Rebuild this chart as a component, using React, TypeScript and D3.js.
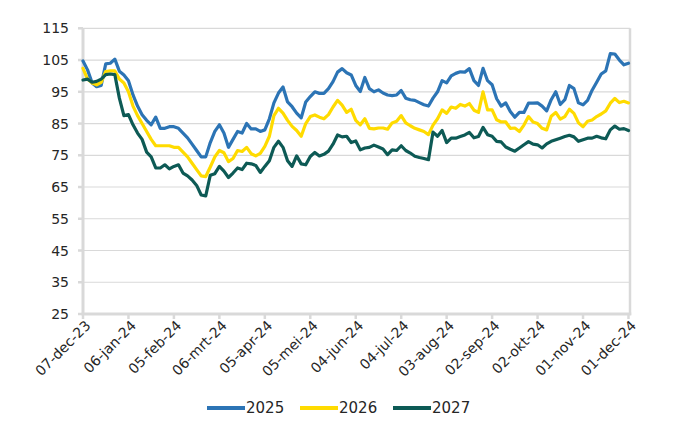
import React from "react";
import * as d3 from "d3";

// ---- data ----
const startDate = new Date(2023, 11, 7);
const endDate = new Date(2024, 11, 2);
const stepDays = 3; // one reading every 3 days
const tickStepDays = 30;

const tickLabels = [
  "07-dec-23", "06-jan-24", "05-feb-24", "06-mrt-24", "05-apr-24", "05-mei-24",
  "04-jun-24", "04-jul-24", "03-aug-24", "02-sep-24", "02-okt-24", "01-nov-24", "01-dec-24",
];
const yTicks = [25, 35, 45, 55, 65, 75, 85, 95, 105, 115];

const seriesNames = ["2025", "2026", "2027"];

const values2025 = [
  104.7, 101.9, 97.8, 96.6, 97, 103.8, 104, 105.3, 101.5, 100.3,
  98.5, 94, 90.5, 87.8, 86, 84.6, 87, 83.5, 83.5, 84,
  84, 83.5, 82, 80.5, 78.5, 76.5, 74.5, 74.5, 79, 82.5,
  84.6, 82, 77.5, 80, 82.5, 82, 85, 83.3, 83.3, 82.5,
  83, 86.5, 91.5, 94.6, 96.5, 91.8, 90.3, 88.3, 86.8, 91.8,
  93.5, 95, 94.5, 94.5, 96, 98.2, 101.2, 102.3, 101, 100.3,
  97, 95.1, 99.5, 96, 95, 95.6, 94.6, 94, 93.8, 94,
  95.4, 93, 92.5, 92.3, 91.6, 90.9, 90.5, 93, 95, 98.5,
  97.8, 100, 100.8, 101.3, 101.2, 102.3, 98.5, 97, 102.4, 98.5,
  97.2, 92.8, 90.5, 91.5, 88.8, 87, 88.5, 88.5, 91.4, 91.4,
  91.5, 90.5, 89, 92.5, 95, 91, 92.5, 97, 96, 91.5,
  90.9, 92.3, 95.5, 98, 100.6, 101.6, 107, 106.9, 105, 103.5,
  104,
];

const values2026 = [
  102.4, 99, 97.8, 97.2, 98, 101.4, 101.6, 101.6, 99, 97.8,
  95, 90.5, 87.5, 85, 82.5, 80, 78, 78, 78, 78,
  77.5, 77.5, 76, 74.5, 72.5, 70.5, 68.5, 68.3, 71.3, 74.5,
  76.5, 75.8, 73, 74, 76.5, 76.2, 77.5, 75.5, 74.8, 75.6,
  77.8, 81, 87.5, 89.8, 88.3, 86, 84.1, 82.8, 81, 85,
  87.2, 87.7, 87, 86.5, 87.8, 90.2, 92.3, 90.8, 88.5, 89.5,
  86, 84.6, 86.5, 83.5, 83.3, 83.6, 83.6, 83.2, 85.2, 85.7,
  87.5, 85.2, 84.3, 83.5, 83, 82.5, 81.5, 84.5, 86.5, 89.3,
  88.2, 90.2, 89.8, 91, 90.5, 91.3, 89.2, 88.5, 95, 89.3,
  89.3, 86.2, 85.5, 85.5, 83.5, 83.6, 82.5, 84.5, 87.2, 85.5,
  85, 83.5, 83, 87.3, 88.5, 86.4, 87.2, 89.5, 88.2, 85.2,
  84, 85.7, 86.1, 87.2, 88, 89, 91.4, 92.9, 91.6, 92,
  91.5,
];

const values2027 = [
  98.7, 99, 98, 98.3, 99, 100.4, 100.6, 100.4, 93, 87.5,
  87.8, 84.6, 82, 80, 76, 74.5, 71, 71, 72, 70.7,
  71.5, 72, 69.4, 68.5, 67.2, 65.5, 62.5, 62.2, 68.7, 69.2,
  71.5, 70, 68, 69.4, 71, 70.5, 72.5, 72.3, 71.8, 69.6,
  71.5, 73.3, 77.5, 79.4, 77.5, 73.3, 71.5, 74.8, 72.3, 72,
  74.6, 75.9, 74.8, 75.3, 76.3, 78.5, 81.4, 80.8, 81, 79,
  79.5, 76.7, 77.3, 77.5, 78.2, 77.6, 77, 75.2, 76.7, 76.5,
  78, 76.5, 75.7, 74.7, 74.3, 74, 73.6, 82.3, 81, 82.8,
  79, 80.4, 80.4, 80.9, 81.4, 82.2, 80.5, 80.9, 83.8, 81.5,
  81, 79.4, 79.2, 77.6, 76.9, 76.3, 77.3, 78.3, 79.3, 78.5,
  78.3, 77.3, 78.6, 79.4, 79.9, 80.4, 80.9, 81.3, 80.8, 79.4,
  79.9, 80.4, 80.4, 81, 80.5, 80.2, 83, 84.2, 83.2, 83.4,
  82.8,
];

const seriesValues = [values2025, values2026, values2027];
const seriesColors = ["#2C74B5", "#FFDB00", "#0D5A55"];

// ---- layout ----
const W = 700;
const H = 430;
const plotLeft = 83;
const plotRight = 630;
const plotTop = 28.3;
const plotBottom = 314;
const gridColor = "#D9D9D9";
const textColor = "#262626";
const font = "'DejaVu Sans', sans-serif";

export default function App() {
  const x = d3.scaleTime().domain([startDate, endDate]).range([plotLeft, plotRight]);
  const y = d3.scaleLinear().domain([25, 115]).range([plotBottom, plotTop]);

  const dates = values2025.map((_, i) => d3.timeDay.offset(startDate, i * stepDays));
  const tickDates = tickLabels.map((_, i) => d3.timeDay.offset(startDate, i * tickStepDays));

  const line = d3
    .line<number>()
    .x((_, i) => x(dates[i]))
    .y((v) => y(v));

  const legendX = [207, 300, 393];

  return (
    <svg
      width={W}
      height={H}
      style={{ position: "absolute", left: 0, top: 0, background: "#fff" }}
      fontFamily={font}
    >
      {/* gridlines */}
      {yTicks.map((t) => (
        <line key={"g" + t} x1={plotLeft} x2={plotRight} y1={y(t)} y2={y(t)} stroke={gridColor} strokeWidth={1.2} />
      ))}
      {/* y tick marks */}
      {yTicks.map((t) => (
        <line key={"yt" + t} x1={plotLeft - 5} x2={plotLeft} y1={y(t)} y2={y(t)} stroke={gridColor} strokeWidth={2.5} />
      ))}
      {/* x tick marks */}
      {tickDates.map((d, i) => (
        <line key={"xt" + i} x1={x(d)} x2={x(d)} y1={plotBottom} y2={plotBottom + 5} stroke={gridColor} strokeWidth={2.5} />
      ))}
      {/* axes */}
      <line x1={plotLeft} x2={plotLeft} y1={plotTop} y2={plotBottom + 1} stroke={gridColor} strokeWidth={3} />
      <line x1={plotRight} x2={plotRight} y1={plotTop} y2={plotBottom + 1} stroke={gridColor} strokeWidth={2.5} />
      <line x1={plotLeft - 1.5} x2={plotRight + 1.25} y1={plotBottom} y2={plotBottom} stroke={gridColor} strokeWidth={3} />

      {/* series */}
      {seriesValues.map((vals, s) => (
        <path
          key={seriesNames[s]}
          d={line(vals) || ""}
          fill="none"
          stroke={seriesColors[s]}
          strokeWidth={3.2}
          strokeLinejoin="round"
          strokeLinecap="round"
        />
      ))}

      {/* y labels */}
      {yTicks.map((t) => (
        <text key={"yl" + t} x={plotLeft - 14} y={y(t)} dy="0.36em" textAnchor="end" fontSize={14} fill={textColor}>
          {t}
        </text>
      ))}

      {/* x labels */}
      {tickDates.map((d, i) => (
        <text
          key={"xl" + i}
          transform={`translate(${x(d) + 5},${plotBottom + 9}) rotate(-45)`}
          textAnchor="end"
          dy="0.35em"
          fontSize={14}
          fill={textColor}
        >
          {tickLabels[i]}
        </text>
      ))}

      {/* legend */}
      {seriesNames.map((n, s) => (
        <g key={"lg" + n} transform={`translate(${legendX[s]},408)`}>
          <line x1={0} x2={38} y1={0} y2={0} stroke={seriesColors[s]} strokeWidth={4} />
          <text x={39} y={0} dy="0.36em" fontSize={15} fill={textColor}>
            {n}
          </text>
        </g>
      ))}
    </svg>
  );
}
